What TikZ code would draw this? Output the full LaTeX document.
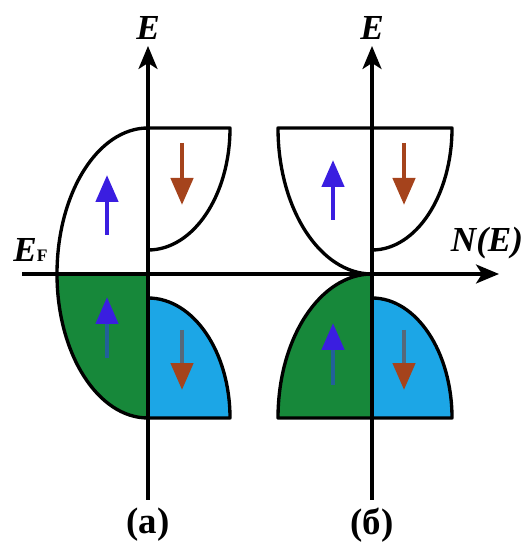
\documentclass[tikz,border=0pt]{standalone}
\usepackage{fontspec}
\setmainfont{Liberation Serif}
\usetikzlibrary{arrows.meta}
\definecolor{bandgreen}{HTML}{17883A}
\definecolor{bandblue}{HTML}{1CA6E6}
\definecolor{spinup}{HTML}{3A1EE0}
\definecolor{spindown}{HTML}{A5431C}
\definecolor{upshaft}{HTML}{22609A}
\definecolor{downshaft}{HTML}{56687A}
\begin{document}
\begin{tikzpicture}[x=0.02cm,y=0.02cm,
  outline/.style={line width=1.9pt,black,line join=round},
  axis/.style={line width=1.9pt,black,-{Stealth[length=0.46cm,width=0.38cm,inset=0.12cm]}},
  spintip/.style={-{Triangle[length=0.54cm,width=0.44cm,color=#1]}},
  upspin/.style={line width=2.6pt,spinup,spintip=spinup},
  downspin/.style={line width=2.6pt,spindown,spintip=spindown},
  lbl/.style={font=\fontsize{20}{24}\selectfont\bfseries\itshape,inner sep=0pt},
  captext/.style={font=\fontsize{21}{25}\selectfont\bfseries,inner sep=0pt}]
\useasboundingbox (0,0) rectangle (529,546);
% ---------- panel (a) ----------
\fill[bandgreen] (148,272) -- (57,272) arc[start angle=180,end angle=270,x radius=91,y radius=144] -- cycle;
\fill[bandblue] (148,248) arc[start angle=90,end angle=0,x radius=82,y radius=120] -- (148,128) -- cycle;
\draw[outline] (57,272) arc[start angle=180,end angle=90,x radius=91,y radius=146];
\draw[outline] (148,418) -- (230,418) arc[start angle=0,end angle=-90,x radius=82,y radius=122];
\draw[outline] (57,272) arc[start angle=180,end angle=270,x radius=91,y radius=144] -- (148,128);
\draw[outline] (148,248) arc[start angle=90,end angle=0,x radius=82,y radius=120] -- (148,128);
% ---------- panel (b) ----------
\fill[bandgreen] (372,272) arc[start angle=90,end angle=180,x radius=94,y radius=144] -- (372,128) -- cycle;
\fill[bandblue] (372,248) arc[start angle=90,end angle=0,x radius=80,y radius=120] -- (372,128) -- cycle;
\draw[outline] (372,272) arc[start angle=270,end angle=180,x radius=94,y radius=146] -- (452,418) arc[start angle=0,end angle=-90,x radius=80,y radius=122];
\draw[outline] (372,272) arc[start angle=90,end angle=180,x radius=94,y radius=144] -- (372,128);
\draw[outline] (372,248) arc[start angle=90,end angle=0,x radius=80,y radius=120] -- (372,128);
% ---------- axes ----------
\coordinate (a0) at (148,46);
\coordinate (a1) at (148,500);
\coordinate (b0) at (372,46);
\coordinate (b1) at (372,500);
\coordinate (h0) at (22,272);
\coordinate (h1) at (499,272);
\draw[axis] (a0) -- (a1);
\draw[axis] (b0) -- (b1);
\draw[axis] (h0) -- (h1);
% ---------- spin arrows ----------
\coordinate (au0) at (107,311); \coordinate (au1) at (107,371);
\coordinate (ad0) at (182,403); \coordinate (ad1) at (182,341);
\coordinate (gu0) at (107,188); \coordinate (gu1) at (107,249);
\coordinate (bd0) at (182,216); \coordinate (bd1) at (182,156);
\coordinate (cu0) at (333,326); \coordinate (cu1) at (333,386);
\coordinate (cd0) at (404,403); \coordinate (cd1) at (404,341);
\coordinate (hu0) at (333,161); \coordinate (hu1) at (333,223);
\coordinate (kd0) at (404,216); \coordinate (kd1) at (404,156);
\draw[upspin] (au0) -- (au1);
\draw[downspin] (ad0) -- (ad1);
\draw[upspin] (cu0) -- (cu1);
\draw[downspin] (cd0) -- (cd1);
\draw[upspin,upshaft] (gu0) -- (gu1);
\draw[upspin,upshaft] (hu0) -- (hu1);
\draw[downspin,downshaft] (bd0) -- (bd1);
\draw[downspin,downshaft] (kd0) -- (kd1);
% ---------- labels ----------
\node[lbl] (Ea) at (148,518) {E};
\node[lbl] (Eb) at (372,518) {E};
\node[lbl,anchor=base west] (EF) at (13,284) {E{\fontsize{10}{12}\selectfont\upshape F}};
\node[lbl] (NE) at (487,303) {N(E)};
\node[captext] (capa) at (148,21) {(a)};
\node[captext] (capb) at (372,21) {(б)};
\end{tikzpicture}
\end{document}
